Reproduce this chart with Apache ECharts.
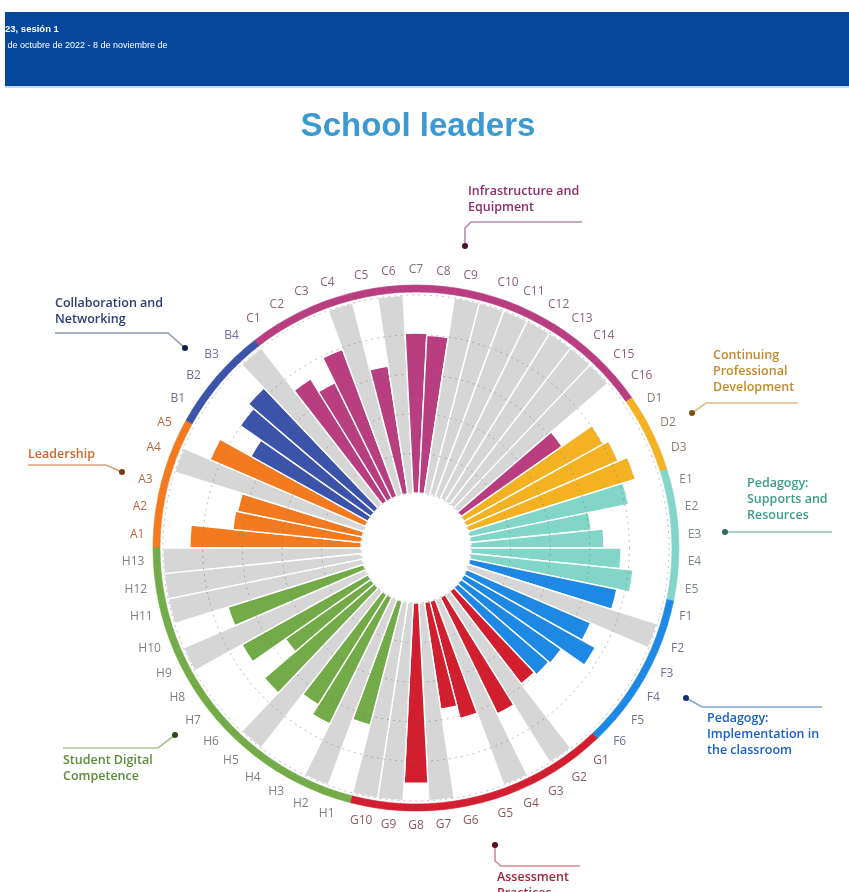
<!DOCTYPE html>
<html>
<head>
<meta charset="utf-8">
<script src="https://cdn.jsdelivr.net/npm/echarts@6/dist/echarts.min.js"></script>
<style>
html,body{margin:0;padding:0;background:#fff;}
#chart{width:849px;height:892px;}
</style>
</head>
<body>
<div id="chart"></div>
<script>
// ---------- DATA ----------
const categories = [
  'A1','A2','A3','A4','A5',
  'B1','B2','B3','B4',
  'C1','C2','C3','C4','C5','C6','C7','C8','C9','C10','C11','C12','C13','C14','C15','C16',
  'D1','D2','D3',
  'E1','E2','E3','E4','E5',
  'F1','F2','F3','F4','F5','F6',
  'G1','G2','G3','G4','G5','G6','G7','G8','G9','G10',
  'H1','H2','H3','H4','H5','H6','H7','H8','H9','H10','H11','H12','H13'
];
// school values (null = no answer, shown as grey full-scale bar)
const valuesA = [4.32, 3.26, 3.21, null, 4.27];
const valuesB = [3.38, 4.02, 4.19, null];
const valuesC = [3.64, 3.26, 3.96, null, 3.26, null, 4.04, 3.99, null, null, null, null, null, null, null, 3.11];
const valuesD = [4.02, 4.17, 4.42];
const valuesE = [4.09, 3.06, 3.36, 3.79, 4.12];
const valuesF = [3.79, null, 3.41, 3.79, 3.08, 3.03];
const valuesG = [2.95, null, 3.28, null, 3.06, 2.73, null, 4.55, null, null];
const valuesH = [3.23, null, 3.56, 3.28, null, 3.66, 2.63, 3.64, null, 3.59, null, null, null];
const scaleMax = 5;
const groupKeys = ['A','B','C','D','E','F','G','H'];
const groupTitles = [
  'Leadership',
  'Collaboration and\nNetworking',
  'Infrastructure and\nEquipment',
  'Continuing\nProfessional\nDevelopment',
  'Pedagogy:\nSupports and\nResources',
  'Pedagogy:\nImplementation in\nthe classroom',
  'Assessment\nPractices',
  'Student Digital\nCompetence'
];

// ---------- STYLE ----------
const groupColors = {A:'#F47A20',B:'#3B53A8',C:'#B83E80',D:'#F4B223',E:'#82D6C7',F:'#1E88E5',G:'#D21F30',H:'#72AB48'};
const labelColors = {A:'#B5693F',B:'#6F6C98',C:'#8C6280',D:'#8A7E6C',E:'#7E8987',F:'#6E7396',G:'#8E5A60',H:'#7D827A'};
const titleColors = {A:'#C8692E',B:'#2B3D78',C:'#8E2E6E',D:'#C48A2A',E:'#3E9C8A',F:'#1A5FC8',G:'#A3233A',H:'#5E8C3A'};
const lineColors  = {A:'#D9A27C',B:'#8B97B8',C:'#B98AAA',D:'#DDBE86',E:'#8FC4B8',F:'#7FA6DA',G:'#D68A95',H:'#A9C394'};
const dotColors   = {A:'#7A3A10',B:'#0F1F4A',C:'#4A0E35',D:'#7A5210',E:'#2E6A5E',F:'#0E2E78',G:'#5A0A18',H:'#2E4A1A'};
const greyBar = '#D6D6D6';
const C = [416, 548];
const FONT = '"Open Sans", "DejaVu Sans", sans-serif';

const values = [].concat(valuesA, valuesB, valuesC, valuesD, valuesE, valuesF, valuesG, valuesH);
const groupOf = c => c.charAt(0);

const barData = categories.map((c, i) => {
  const v = values[i];
  if (v === null) return {value: scaleMax, itemStyle: {color: greyBar}};
  return {value: v, itemStyle: {color: groupColors[groupOf(c)]}};
});
const ringData = categories.map(c => ({value: 1, itemStyle: {color: groupColors[groupOf(c)], borderColor: groupColors[groupOf(c)], borderWidth: 0.6}}));
const labelCats = categories.map(c => ({value: c, textStyle: {color: labelColors[groupOf(c)]}}));

// callout layout (positions only); dot = index of dot point
const callouts = {
  A: {tx: 28, ty: 446, dot: 2, pts: [[28,465],[106,465],[122,472]]},
  B: {tx: 55, ty: 295, dot: 2, pts: [[55,333],[168,333],[185,348]]},
  C: {tx: 468, ty: 183, dot: 3, pts: [[582,222],[471,222],[465,228],[465,246]]},
  D: {tx: 713, ty: 347, dot: 2, pts: [[798,403],[706,403],[692,413]]},
  E: {tx: 747, ty: 475, dot: 1, pts: [[832,532],[725,532]]},
  F: {tx: 707, ty: 710, dot: 2, pts: [[822,707],[702,707],[686,698]]},
  G: {tx: 497, ty: 869, dot: 0, pts: [[495,845],[495,861],[501,866],[580,866]]},
  H: {tx: 63, ty: 752, dot: 2, pts: [[63,748],[158,748],[175,735]]}
};

const graphics = [
  {type:'rect', shape:{x:5, y:12, width:844, height:74}, style:{fill:'#05479A'}},
  {type:'rect', shape:{x:5, y:86, width:844, height:2}, style:{fill:'#C6DAEE'}},
  {type:'text', x:5, y:24, style:{text:'23, sesión 1', fill:'#fff', font:'bold 9.5px "Liberation Sans", Arial, sans-serif'}},
  {type:'text', x:3, y:41, style:{text:'l de octubre de 2022 - 8 de noviembre de', fill:'#fff', font:'9px "Liberation Sans", Arial, sans-serif'}},
  {type:'text', x:418, y:110, style:{text:'School leaders', fill:'#3D9AD1', font:'bold 33px "Liberation Sans", Arial, sans-serif', textAlign:'center'}}
];
groupKeys.forEach((k, gi) => {
  const co = callouts[k];
  graphics.push({type:'polyline', shape:{points: co.pts}, style:{stroke: lineColors[k], lineWidth: 1.6, fill: null}});
  const dot = co.pts[co.dot];
  graphics.push({type:'circle', shape:{cx: dot[0], cy: dot[1], r: 3}, style:{fill: dotColors[k]}});
  graphics.push({type:'text', x: co.tx, y: co.ty, style:{text: groupTitles[gi], fill: titleColors[k], font: '600 12.5px ' + FONT, lineHeight: 16}});
});

const chart = echarts.init(document.getElementById('chart'), null, {renderer:'canvas'});
chart.setOption({
  animation: false,
  backgroundColor: '#ffffff',
  polar: [
    {center: C, radius: [55, 253]},
    {center: C, radius: [256, 263]}
  ],
  angleAxis: [
    {polarIndex:0, type:'category', data: categories, startAngle:180, clockwise:true,
     axisLine:{show:false}, axisTick:{show:false}, axisLabel:{show:false}, splitLine:{show:false}},
    {polarIndex:1, type:'category', data: labelCats, startAngle:180, clockwise:true,
     axisLine:{show:false}, axisTick:{show:false}, splitLine:{show:false},
     axisLabel:{show:true, interval:0, margin:9, fontSize:12, fontFamily: FONT}}
  ],
  radiusAxis: [
    {polarIndex:0, type:'value', min:0, max:scaleMax, interval:1, z:10,
     axisLine:{show:false}, axisTick:{show:false}, axisLabel:{show:false},
     splitLine:{show:true, showMinLine:false, showMaxLine:false,
       lineStyle:{type:[2,4], color:'rgba(110,110,110,0.45)', width:1}}},
    {polarIndex:1, type:'value', min:0, max:1, show:false,
     axisLine:{show:false}, axisTick:{show:false}, axisLabel:{show:false}, splitLine:{show:false}}
  ],
  series: [
    {type:'bar', coordinateSystem:'polar', polarIndex:0, data: barData, barCategoryGap:'0%',
     itemStyle:{borderColor:'#fff', borderWidth:1.4}, silent:true},
    {type:'bar', coordinateSystem:'polar', polarIndex:1, data: ringData, barCategoryGap:'0%', silent:true}
  ],
  graphic: graphics
});
</script>
</body>
</html>
